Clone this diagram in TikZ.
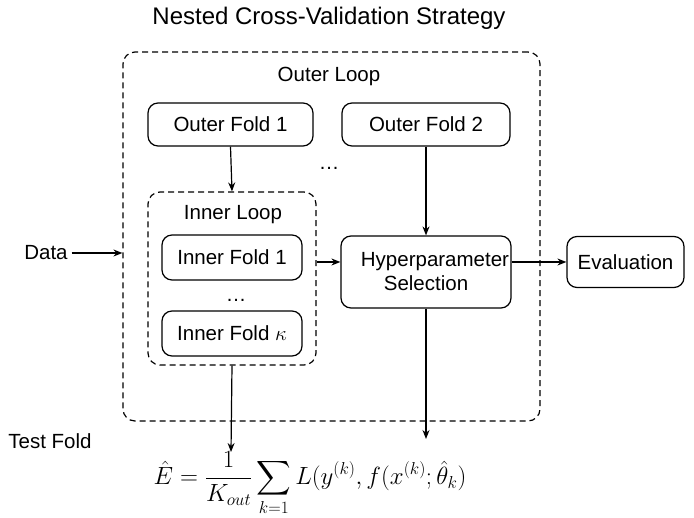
\documentclass[tikz,border=0pt]{standalone}
\usepackage{amsmath}
\usepackage{amssymb}
\usepackage{fontspec}
\setmainfont{Liberation Sans}
\usetikzlibrary{arrows.meta}

\begin{document}
\begin{tikzpicture}[x=1pt, y=-1pt, line width=1.2pt,
  txt/.style={font=\fontsize{20.5}{24}\selectfont},
  fold/.style={draw, rounded corners=10pt, txt, align=center, inner sep=0pt},
  loopbox/.style={draw, dashed, dash pattern=on 6pt off 4pt, rounded corners=12pt, inner sep=0pt},
  flow/.style={-{Stealth[length=9pt, width=7pt]}}]
\useasboundingbox (0,0) rectangle (694,518);

\node[font=\fontsize{24}{28}\selectfont] at (329, 18) (title) {Nested Cross-Validation Strategy};
\node[loopbox, minimum width=417, minimum height=369] at (331.5, 236.5) (outer) {};
\node[txt] at (329, 76) (outerlbl) {Outer Loop};
\node[fold, minimum width=165, minimum height=43] at (230.5, 124.5) (of1) {Outer Fold 1};
\node[fold, minimum width=168, minimum height=43] at (426, 124.5) (of2) {Outer Fold 2};
\node[txt] at (329, 168) (odots) {\dots};

\node[loopbox, minimum width=168, minimum height=173] at (232, 278.5) (inner) {};
\node[txt] at (233, 215) (innerlbl) {Inner Loop};
\node[fold, minimum width=140, minimum height=45] at (232, 257.5) (if1) {Inner Fold 1};
\node[txt] at (236, 300) (idots) {\dots};
\node[fold, minimum width=140, minimum height=45] at (232, 333.5) (ifk) {Inner Fold $\kappa$};

\node[fold, minimum width=170, minimum height=72] at (426, 272) (hyp) {\hspace*{18pt}Hyperparameter\\Selection};
\node[fold, minimum width=117, minimum height=51] at (625.5, 262) (eval) {Evaluation};

\node[txt] at (46, 253) (data) {Data};
\node[txt] at (50, 441) (test) {Test Fold};
\node[font=\fontsize{24}{28}\selectfont] at (310, 484) (loss)
  {$\displaystyle \hat{E} = \frac{1}{K_{out}} \sum_{k=1} L(y^{(k)}, f(x^{(k)}; \hat{\theta}_k)$};
\coordinate (lossL) at (231, 452);
\coordinate (lossR) at (426, 439);

\draw[flow] (of1.south) -- (inner.north);
\draw[flow] (of2.south) -- (hyp.north);
\draw[flow] (inner.east |- eval.west) -- (hyp.west |- eval.west);
\draw[flow] (hyp.east |- eval.west) -- (eval.west);
\draw[flow] (data.east) -- (outer.west |- data.east);
\draw[flow] (inner.south) -- (lossL);
\draw[flow] (hyp.south) -- (lossR);
\end{tikzpicture}
\end{document}
